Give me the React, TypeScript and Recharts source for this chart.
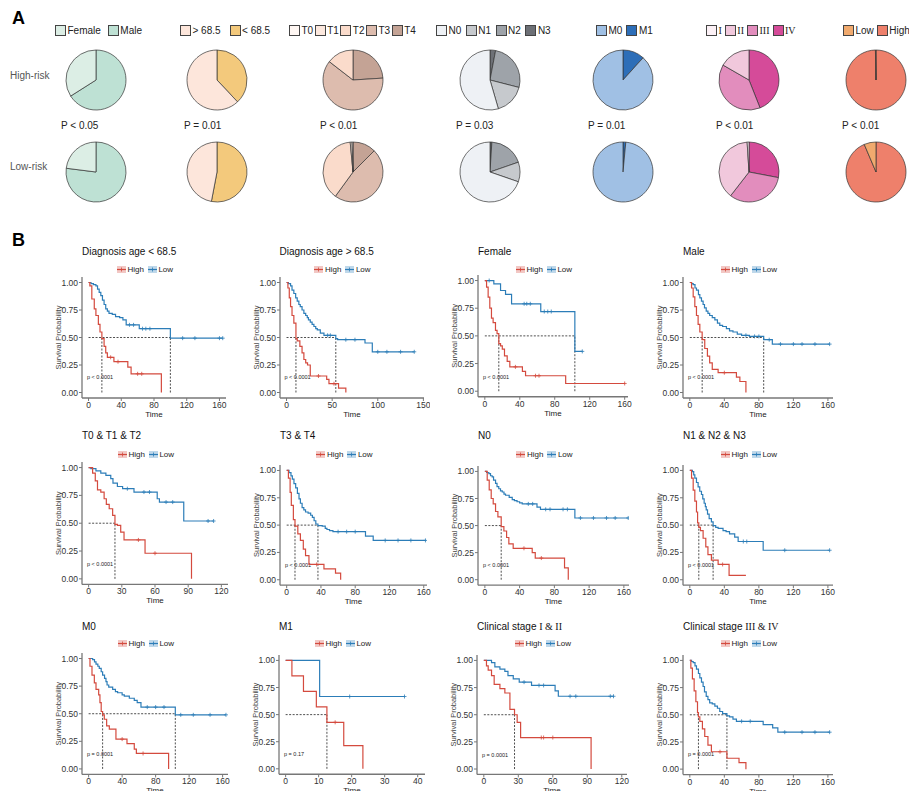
import React from "react";
import { PieChart, Pie, Cell, LineChart, Line, XAxis, YAxis, ReferenceLine } from "recharts";

const FONT = '"Liberation Sans", Arial, Helvetica, sans-serif';
const SERIF = '"Liberation Serif", "Times New Roman", serif';
const RED = "#D44A3E";
const BLUE = "#2C7DB8";

// ---- Panel A: clinical composition (percent of patients) ----
const sexLabels = ["Female", "Male"];
const sexHigh = [34, 66];
const sexLow = [23, 77];
const ageLabels = ["> 68.5", "< 68.5"];
const ageHigh = [62, 38];
const ageLow = [47, 53];
const tLabels = ["T0", "T1", "T2", "T3", "T4"];
const tHigh = [0, 0, 14.5, 61.5, 24];
const tLow = [0.5, 1, 38.5, 47.5, 12.5];
const nLabels = ["N0", "N1", "N2", "N3"];
const nHigh = [54.5, 16.5, 26, 3];
const nLow = [69.7, 10.6, 18.7, 1];
const mLabels = ["M0", "M1"];
const mHigh = [88.3, 11.7];
const mLow = [98.5, 1.5];
const stageLabels = ["I", "II", "III", "IV"];
const stageHigh = [0, 16.7, 39.3, 44];
const stageLow = [1, 38.5, 32.5, 28];
const riskLabels = ["Low", "High"];
const riskHigh = [0.3, 99.7];
const riskLow = [6.4, 93.6];
const pValues = ["P < 0.05", "P = 0.01", "P < 0.01", "P = 0.03", "P = 0.01", "P < 0.01", "P < 0.01"];

const pieGroups = [
  { labels: sexLabels, high: sexHigh, low: sexLow, colors: ["#DCEEE5", "#BEE1D4"], gap: 7 },
  { labels: ageLabels, high: ageHigh, low: ageLow, colors: ["#FDE6DB", "#F3C97C"], gap: 9 },
  { labels: tLabels, high: tHigh, low: tLow, colors: ["#FFF7F3", "#FCE8DE", "#FADBCB", "#DDBCAE", "#C4A395"], gap: 1.5 },
  { labels: nLabels, high: nHigh, low: nLow, colors: ["#EEF1F5", "#C6C9CD", "#9EA3A9", "#6D7076"], gap: 4.5 },
  { labels: mLabels, high: mHigh, low: mLow, colors: ["#A0C0E4", "#2D6EB8"], gap: 4 },
  { labels: stageLabels, high: stageHigh, low: stageLow, colors: ["#FCF1F6", "#F1C8DC", "#E28DBD", "#D54B99"], gap: 3, serif: true },
  { labels: riskLabels, high: riskHigh, low: riskLow, colors: ["#F1AA6E", "#EE806B"], gap: 3 },
];
const pieCx = [96, 217, 353, 490, 623, 749, 876];
const legendX = [55, 180, 289, 436, 596, 706, 843];
const pX = [61, 184, 320, 456, 588, 716, 842];

// ---- Panel B: Kaplan-Meier steps [time, survival, censored?] ----
const ageYoungHigh = [[0,1],[1.6,0.97],[4,0.85],[7,0.76],[9,0.7],[12,0.62],[14,0.55],[16.3,0.49],[19,0.42],[21,0.36],[23,0.32],[27,0.32,1],[31,0.28],[36,0.28,1],[48,0.23],[52,0.17],[60,0.17,1],[65,0.17,1],[89,0]];
const ageYoungLow = [[0,1],[3,0.99],[6,0.98],[9,0.97],[11,0.94],[13,0.91],[15,0.88],[17,0.84],[19,0.8],[21,0.76],[23,0.74],[25,0.72],[29,0.71],[33,0.69],[38,0.68],[42,0.66],[46,0.615],[50,0.615,1],[55,0.615,1],[62,0.58],[66,0.58,1],[70,0.58,1],[75,0.58,1],[100,0.494],[115,0.494,1],[130,0.494,1],[160,0.494,1],[164,0.494,1]];
const ageOldHigh = [[0,1],[1.5,0.95],[3,0.86],[4.4,0.78],[6,0.7],[8,0.63],[10.3,0.49],[11.7,0.47],[14.6,0.42],[17,0.36],[19,0.3],[21,0.27],[23,0.25],[26,0.15],[35,0.15,1],[44,0.12],[46.5,0.08],[52,0.08,1],[57,0.04],[65,0]];
const ageOldLow = [[0,1],[2,0.99],[4.4,0.97],[6,0.93],[8,0.9],[10,0.86],[11.7,0.83],[13.5,0.8],[15,0.78],[17,0.75],[19,0.72],[21,0.7],[22.7,0.68],[24,0.66],[26,0.64],[28,0.62],[30,0.6],[32,0.58],[33.7,0.57],[37,0.54],[41,0.52],[45,0.52,1],[48,0.52,1],[54,0.49],[56,0.48],[65,0.48,1],[75,0.48,1],[86,0.45],[94,0.37],[100,0.37,1],[110,0.37,1],[125,0.37,1],[140,0.37,1]];
const femaleHigh = [[0,1],[2,0.94],[3.8,0.85],[5.7,0.75],[7.6,0.66],[9.5,0.62],[12.2,0.55],[14,0.52],[16,0.43],[18,0.41],[20,0.38],[22.5,0.32],[25.6,0.27],[28.6,0.22],[35,0.22,1],[43,0.18],[46.6,0.14],[58,0.14,1],[62,0.14,1],[92.5,0.07],[160,0.07,1]];
const femaleLow = [[0,1],[5,1,1],[10.3,0.97],[18,0.91],[23.7,0.875],[30.6,0.79],[45,0.79,1],[48,0.79,1],[52,0.79,1],[64,0.72],[68,0.72,1],[72,0.72,1],[76,0.72,1],[103,0.36],[111.5,0.36,1]];
const maleHigh = [[0,1],[2,0.95],[3.9,0.87],[5.8,0.78],[7.7,0.7],[9.6,0.62],[11.6,0.55],[14.3,0.48],[17.3,0.4],[20.4,0.33],[23,0.27],[26,0.21],[32.8,0.18],[40,0.18,1],[54,0.14],[58,0.1],[65,0]];
const maleLow = [[0,1],[2,0.99],[3.9,0.98],[6,0.95],[7.7,0.93],[10,0.89],[11.6,0.86],[13.5,0.83],[15.4,0.8],[17,0.77],[19,0.74],[21,0.72],[23,0.7],[26,0.68],[29,0.66],[32,0.63],[34.7,0.61],[38,0.6],[42.4,0.58],[46,0.56],[50,0.55],[55,0.53],[60,0.52],[65,0.52,1],[69,0.51],[75,0.51,1],[80,0.51,1],[85.6,0.48],[92,0.48,1],[95.6,0.44],[105,0.44,1],[120,0.44,1],[130,0.44,1],[145,0.44,1],[162,0.44,1]];
const tEarlyHigh = [[0,1],[3.6,0.95],[6,0.88],[8,0.8],[11,0.78],[14,0.72],[16,0.67],[18.6,0.63],[21.7,0.57],[23.8,0.49],[26,0.48],[29,0.42],[32,0.35],[45,0.35,1],[51,0.23],[60,0.23,1],[93,0]];
const tEarlyLow = [[0,1],[2,0.99],[6.6,0.97],[11,0.95],[15.6,0.93],[20,0.9],[22,0.86],[26,0.83],[30.7,0.81],[35,0.81,1],[41,0.78],[50,0.78,1],[55,0.78,1],[62,0.72],[64,0.69],[70,0.69,1],[76,0.69,1],[86,0.52],[108,0.52,1],[113,0.52,1]];
const tLateHigh = [[0,1],[2,0.93],[4,0.8],[5.4,0.68],[7.8,0.55],[9.7,0.49],[13,0.42],[16,0.36],[19.4,0.28],[22,0.22],[26,0.14],[35,0.14,1],[43.5,0.1],[57,0.06],[63,0]];
const tLateLow = [[0,1],[2.7,0.98],[5,0.95],[6.6,0.92],[8.5,0.88],[10.5,0.84],[12.5,0.79],[14.4,0.74],[16,0.7],[18,0.66],[20,0.64],[22,0.62],[25,0.61],[28,0.59],[30,0.57],[32,0.54],[34,0.51],[36.5,0.495],[41.5,0.49],[45,0.47],[47,0.46],[50,0.45],[54,0.44],[60,0.44,1],[70,0.44,1],[80,0.44,1],[92,0.4],[101,0.36],[115,0.36,1],[130,0.36,1],[145,0.36,1],[162,0.36,1]];
const n0High = [[0,1],[2.7,0.92],[5,0.83],[7.3,0.75],[9.6,0.7],[12.3,0.63],[15,0.58],[18.8,0.49],[21.9,0.45],[25,0.39],[27.6,0.33],[32.6,0.29],[45,0.29,1],[54.5,0.25],[58,0.2],[65,0.2,1],[91.7,0.11],[96,0]];
const n0Low = [[0,1],[2,0.99],[4.6,0.98],[6.5,0.96],[8.4,0.95],[10,0.92],[12.3,0.89],[14,0.86],[16,0.84],[18,0.82],[20,0.81],[22,0.79],[23.8,0.78],[28,0.76],[31.5,0.74],[34,0.73],[37,0.72],[40,0.71],[43,0.7],[50,0.7,1],[55,0.7,1],[60,0.67],[64,0.65],[70,0.65,1],[75,0.65,1],[90,0.65,1],[95,0.65,1],[103.6,0.57],[110,0.57,1],[125,0.57,1],[140,0.57,1],[150,0.57,1],[165,0.57,1]];
const nPosHigh = [[0,1],[2,0.93],[3.9,0.82],[5.8,0.72],[7.7,0.62],[9,0.52],[10.4,0.48],[12.3,0.45],[15.4,0.38],[18.5,0.3],[21,0.23],[25,0.18],[32.8,0.14],[38,0.14,1],[45.5,0.04],[65,0.04]];
const nPosLow = [[0,1],[3,0.99],[4.5,0.96],[5.8,0.93],[7.7,0.89],[9.6,0.85],[11.5,0.81],[13.5,0.78],[15,0.74],[16.6,0.7],[18,0.67],[19,0.64],[20.5,0.6],[22.4,0.56],[25,0.53],[27,0.495],[30,0.48],[32.8,0.47],[38.5,0.45],[42,0.44],[46,0.42],[52,0.39],[56,0.35],[62,0.35,1],[66,0.35,1],[85,0.27],[110,0.27,1],[162,0.27,1]];
const m0High = [[0,1],[1.6,0.93],[4,0.85],[6.8,0.78],[8.8,0.72],[12,0.67],[13.5,0.6],[15,0.52],[16.7,0.49],[18.7,0.45],[21.5,0.39],[24.7,0.36],[32.6,0.27],[40,0.27,1],[45.8,0.23],[54.5,0.18],[57,0.14],[65,0.14,1],[95.5,0]];
const m0Low = [[0,1],[4.8,0.99],[7,0.97],[8.8,0.95],[11,0.93],[12.7,0.91],[15,0.88],[16.7,0.85],[19,0.82],[20.7,0.79],[22,0.76],[24,0.74],[28.7,0.72],[32,0.7],[34.6,0.69],[40,0.67],[42.6,0.66],[48.6,0.64],[54.5,0.62],[58,0.6],[62.5,0.56],[70,0.56,1],[80,0.56,1],[90,0.56,1],[103.5,0.49],[110,0.49,1],[125,0.49,1],[145,0.49,1],[164,0.49,1]];
const m1High = [[0,1],[1.9,0.857],[5.4,0.714],[9.3,0.571],[12.5,0.429],[15,0.429,1],[17.6,0.214],[23.4,0]];
const m1Low = [[0,1],[10.3,0.667],[19.4,0.667,1],[36,0.667,1]];
const stEarlyHigh = [[0,1],[2.3,0.95],[3.8,0.91],[6.7,0.86],[9,0.78],[14,0.74],[18.3,0.7],[22.7,0.55],[26.7,0.5],[29,0.43],[32,0.29],[50,0.29,1],[52,0.29,1],[60,0.29,1],[93.3,0]];
const stEarlyLow = [[0,1],[6.7,0.98],[9.6,0.94],[14,0.92],[18.3,0.9],[21,0.86],[25.6,0.83],[30.8,0.8],[35,0.8,1],[41.5,0.77],[48,0.77,1],[52,0.77,1],[62,0.72],[64.8,0.67],[75,0.67,1],[80,0.67,1],[110,0.67,1],[112.8,0.67,1]];
const stLateHigh = [[0,1],[1.2,0.93],[3,0.83],[5,0.72],[7,0.62],[8.9,0.52],[10,0.48],[11.6,0.44],[14.6,0.37],[17.3,0.3],[21,0.22],[25,0.16],[35,0.16,1],[43,0.1],[57,0.06],[65,0]];
const stLateLow = [[0,1],[2,0.99],[3.9,0.98],[6,0.95],[7.7,0.92],[10,0.88],[11.6,0.84],[13.5,0.8],[15.4,0.76],[17,0.71],[19,0.67],[21,0.64],[23,0.61],[26,0.6],[29,0.58],[32,0.56],[34.7,0.53],[38,0.51],[43,0.49],[46,0.48],[50,0.46],[54,0.44],[60,0.44,1],[70,0.44,1],[85,0.41],[96,0.38],[102,0.34],[110,0.34,1],[130,0.34,1],[145,0.34,1],[162,0.34,1]];

const T160 = [0, 40, 80, 120, 160];
const T150 = [0, 50, 100, 150];
const T120 = [0, 30, 60, 90, 120];
const T40 = [0, 10, 20, 30, 40];

const I2 = <>Clinical stage <span style={{ fontFamily: SERIF }}>I &amp; II</span></>;
const I4 = <>Clinical stage <span style={{ fontFamily: SERIF }}>III &amp; IV</span></>;

const kmPlots = [
  { title: "Diagnosis age < 68.5", high: ageYoungHigh, low: ageYoungLow, medians: [16.3, 100], p: "p < 0.0001", ticks: T160, R: 160 },
  { title: "Diagnosis age > 68.5", high: ageOldHigh, low: ageOldLow, medians: [10.3, 54], p: "p < 0.0001", ticks: T150, R: 143.5 },
  { title: "Female", high: femaleHigh, low: femaleLow, medians: [16, 103], p: "p < 0.0001", ticks: T160, R: 156 },
  { title: "Male", high: maleHigh, low: maleLow, medians: [14.3, 85.6], p: "p < 0.0001", ticks: T160, R: 158 },
  { title: "T0 & T1 & T2", high: tEarlyHigh, low: tEarlyLow, medians: [23.8], p: "p < 0.0001", ticks: T120, R: 120 },
  { title: "T3 & T4", high: tLateHigh, low: tLateLow, medians: [9.7, 36.5], p: "p < 0.0001", ticks: T160, R: 156 },
  { title: "N0", high: n0High, low: n0Low, medians: [18.8], p: "p < 0.0001", ticks: T160, R: 158 },
  { title: "N1 & N2 & N3", high: nPosHigh, low: nPosLow, medians: [10.4, 27], p: "p < 0.0001", ticks: T160, R: 158 },
  { title: "M0", high: m0High, low: m0Low, medians: [16.7, 103.5], p: "p = 0.0001", ticks: T160, R: 158.5 },
  { title: "M1", high: m1High, low: m1Low, medians: [12.5], p: "p = 0.17", ticks: T40, R: 40.2 },
  { title: I2, high: stEarlyHigh, low: stEarlyLow, medians: [26.7], p: "p = 0.0001", ticks: T120, R: 118.6 },
  { title: I4, high: stLateHigh, low: stLateLow, medians: [10, 43], p: "p = 0.0001", ticks: T160, R: 158 },
];
// [axis x, plot width, px of 1.00, px of 0.00]
const kmBox = [
  [82, 144, 282, 392], [279.5, 144, 282, 392], [478, 150, 281, 391.7], [683, 150, 282, 392],
  [82, 146, 467.7, 579], [280, 147, 470.7, 580], [478, 151, 471, 579.3], [683, 150, 470, 579.3],
  [82, 146, 658.3, 768.7], [279, 146, 660.3, 768.7], [477, 150, 660.7, 769.3], [683, 150, 660.3, 769],
];
const rowTitleY = [253, 437, 628];
const rowLegendY = [270, 455, 644];

const pts = (a: number[][]) => a.map(([t, s, c]) => ({ t, s, c: c === 1 }));

function censor(color: string) {
  return (props: any) => {
    const { cx, cy, payload, index } = props;
    if (!payload || !payload.c || cx == null) return <g key={`c${index}`} />;
    return <path key={`c${index}`} d={`M${cx - 2},${cy}h4M${cx},${cy - 2}v4`} stroke={color} strokeWidth={0.8} fill="none" />;
  };
}

function Key({ color }: { color: string }) {
  return (
    <svg width={9} height={7} style={{ marginRight: 1.5 }}>
      <rect x={0} y={0} width={9} height={7} fill={color} fillOpacity={0.3} />
      <line x1={0} y1={3.5} x2={9} y2={3.5} stroke={color} strokeWidth={1.2} />
      <line x1={4.5} y1={1.5} x2={4.5} y2={5.5} stroke={color} strokeWidth={0.8} />
    </svg>
  );
}

function KM({ plot, idx }: { plot: any; idx: number }) {
  const [axisX, width, y1, y0] = kmBox[idx];
  const row = Math.floor(idx / 4);
  const unit = y0 - y1;
  const top = y1 - 0.05 * unit;
  const plotH = 1.1 * unit;
  const yW = 40, mTop = 4, xH = 24;
  const maxMed = Math.max(...plot.medians);
  return (
    <>
      <div style={{ position: "absolute", left: axisX, top: rowTitleY[row] - 7, fontSize: 10, color: "#111", whiteSpace: "nowrap" }}>{plot.title}</div>
      <div style={{ position: "absolute", left: axisX + width / 2 - 9 - 50, width: 100, top: rowLegendY[row] - 5, display: "flex", justifyContent: "center", alignItems: "center", fontSize: 8, color: "#222" }}>
        <Key color={RED} /><span style={{ marginRight: 4 }}>High</span>
        <Key color={BLUE} /><span>Low</span>
      </div>
      <div style={{ position: "absolute", left: axisX + 5, top: y0 - 0.13 * unit - 3.5, fontSize: 5.5, color: "#222", whiteSpace: "nowrap" }}>{plot.p}</div>
      <div style={{ position: "absolute", left: axisX - yW, top: top - mTop }}>
        <LineChart width={yW + width + 6} height={mTop + plotH + xH} margin={{ top: mTop, right: 6, bottom: 0, left: 0 }}>
          <XAxis type="number" dataKey="t" domain={[-0.05 * plot.R, 1.05 * plot.R]} ticks={plot.ticks} allowDataOverflow interval={0}
            height={xH} tickSize={3} tickMargin={1} tick={{ fontSize: 8.5, fill: "#333" }}
            axisLine={{ stroke: "#777", strokeWidth: 1.3 }} tickLine={{ stroke: "#777" }}
            label={{ value: "Time", position: "insideBottom", offset: 5, fontSize: 8, fill: "#222" }} />
          <YAxis type="number" domain={[-0.05, 1.05]} ticks={[0, 0.25, 0.5, 0.75, 1]} allowDataOverflow interval={0}
            tickFormatter={(v: number) => v.toFixed(2)} width={yW} tickSize={3} tickMargin={1}
            tick={{ fontSize: 8.5, fill: "#333" }} axisLine={{ stroke: "#777", strokeWidth: 1.3 }} tickLine={{ stroke: "#777" }}
            label={{ value: "Survival Probability", angle: -90, position: "insideLeft", offset: 16, fontSize: 7.5, fill: "#444", style: { textAnchor: "middle" } }} />
          <ReferenceLine segment={[{ x: 0, y: 0.5 }, { x: maxMed, y: 0.5 }]} stroke="#222" strokeDasharray="2 1.5" strokeWidth={0.8} />
          {plot.medians.map((m: number) => (
            <ReferenceLine key={m} segment={[{ x: m, y: 0 }, { x: m, y: 0.5 }]} stroke="#222" strokeDasharray="2 1.5" strokeWidth={0.8} />
          ))}
          <Line data={pts(plot.low)} dataKey="s" type="stepAfter" stroke={BLUE} strokeWidth={1.2} dot={censor(BLUE)} activeDot={false} isAnimationActive={false} />
          <Line data={pts(plot.high)} dataKey="s" type="stepAfter" stroke={RED} strokeWidth={1.2} dot={censor(RED)} activeDot={false} isAnimationActive={false} />
        </LineChart>
      </div>
    </>
  );
}

export default function App() {
  return (
    <div style={{ position: "absolute", left: 0, top: 0, width: 909, height: 791, overflow: "hidden", background: "#fff", fontFamily: FONT }}>
      <div style={{ position: "absolute", left: 12, top: 8, fontSize: 18, fontWeight: "bold" }}>A</div>
      <div style={{ position: "absolute", left: 12, top: 230, fontSize: 18, fontWeight: "bold" }}>B</div>
      <div style={{ position: "absolute", left: 10, top: 70, fontSize: 10, color: "#555" }}>High-risk</div>
      <div style={{ position: "absolute", left: 10, top: 161, fontSize: 10, color: "#555" }}>Low-risk</div>

      {pieGroups.map((g, i) => (
        <div key={i} style={{ position: "absolute", left: legendX[i], top: 25, display: "flex", alignItems: "center", fontSize: 10, color: "#222", whiteSpace: "nowrap" }}>
          {g.labels.map((lab, k) => (
            <span key={lab} style={{ display: "flex", alignItems: "center", marginRight: k < g.labels.length - 1 ? g.gap : 0 }}>
              <span style={{ width: 9, height: 9, border: "1px solid #444", background: g.colors[k], marginRight: 1.5, display: "inline-block" }} />
              <span style={{ fontFamily: g.serif ? SERIF : FONT }}>{lab}</span>
            </span>
          ))}
        </div>
      ))}
      {pValues.map((p, i) => (
        <div key={i} style={{ position: "absolute", left: pX[i], top: 120, fontSize: 10, color: "#222" }}>{p}</div>
      ))}

      <div style={{ position: "absolute", left: 0, top: 0 }}>
        <PieChart width={909} height={215} margin={{ top: 0, right: 0, bottom: 0, left: 0 }}>
          {pieGroups.flatMap((g, i) => [g.high, g.low].map((vals, r) => {
            const data = g.labels.map((name, k) => ({ name, value: vals[k], color: g.colors[k] })).reverse();
            return (
              <Pie key={`${i}-${r}`} data={data} dataKey="value" cx={pieCx[i]} cy={r === 0 ? 80 : 172} outerRadius={30}
                startAngle={90} endAngle={-270} stroke="#333" strokeWidth={0.7} isAnimationActive={false} label={false} labelLine={false}>
                {data.map((d) => <Cell key={d.name} fill={d.color} />)}
              </Pie>
            );
          }))}
        </PieChart>
      </div>

      {kmPlots.map((p, i) => <KM key={i} plot={p} idx={i} />)}
    </div>
  );
}
